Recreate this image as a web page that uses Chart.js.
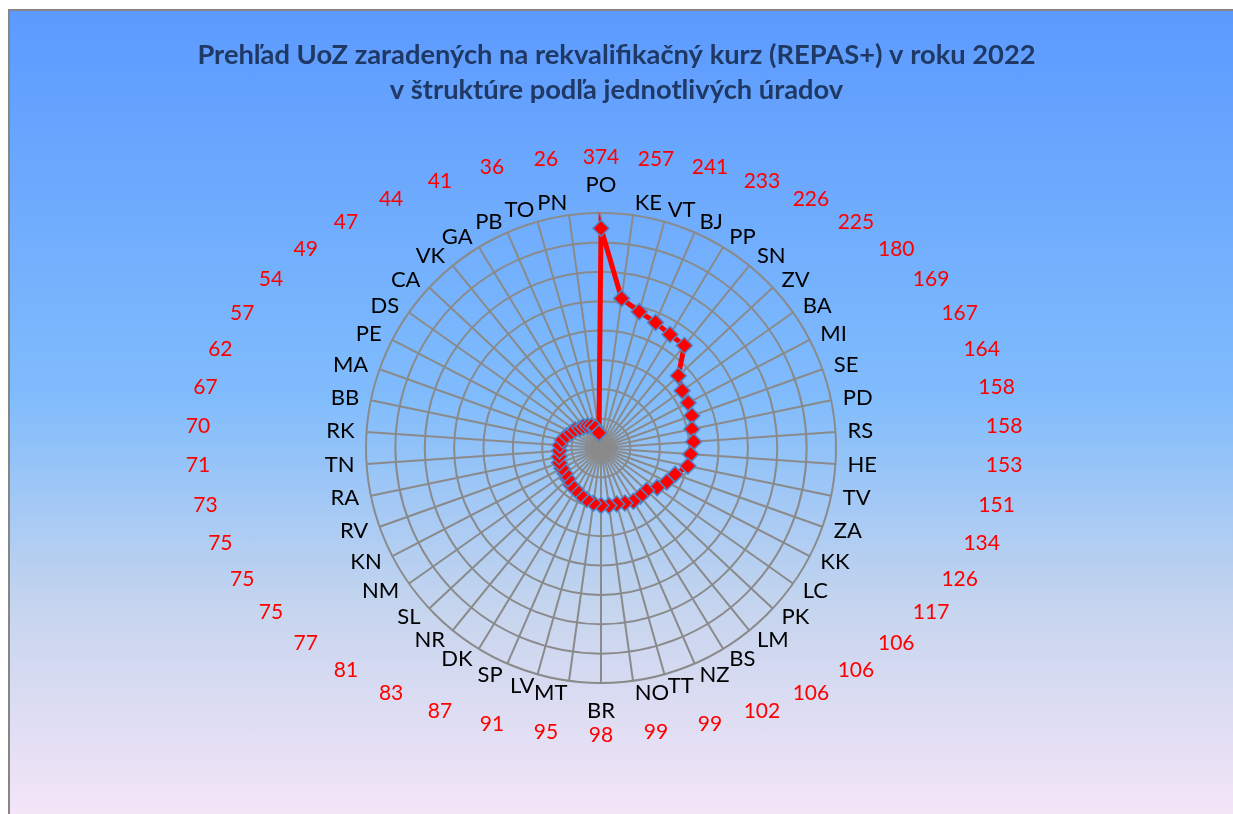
<!DOCTYPE html>
<html>
<head>
<meta charset="utf-8">
<script src="https://cdn.jsdelivr.net/npm/chart.js@4"></script>
<style>
    html, body { margin: 0; padding: 0; background: #fff; overflow: hidden; }
    #fondo {
        position: absolute; left: 8px; top: 9px; width: 1240px; height: 820px;
        border: 2px solid #868686;
        background: linear-gradient(to bottom, #5c9aff 0%, #80bcfc 47%, #c6d5ee 73%, #f8e6f8 100%);
    }
    #grafica { position: absolute; left: 0; top: 0; }
</style>
</head>
<body>
<div id="fondo"></div>
<canvas id="grafica" width="1233" height="814"></canvas>
<script>
// Úrady (v smere hodinových ručičiek od vrchu)
const urady = ['PO', 'KE', 'VT', 'BJ', 'PP', 'SN', 'ZV', 'BA', 'MI', 'SE', 'PD', 'RS', 'HE', 'TV', 'ZA', 'KK',
    'LC', 'PK', 'LM', 'BS', 'NZ', 'TT', 'NO', 'BR', 'MT', 'LV', 'SP', 'DK', 'NR', 'SL', 'NM', 'KN', 'RV',
    'RA', 'TN', 'RK', 'BB', 'MA', 'PE', 'DS', 'CA', 'VK', 'GA', 'PB', 'TO', 'PN'];

// Počet UoZ zaradených na REPAS+
const pocty = [374, 257, 241, 233, 226, 225, 180, 169, 167, 164, 158, 158, 153, 151, 134, 126, 117, 106,
    106, 106, 102, 99, 99, 98, 95, 91, 87, 83, 81, 77, 75, 75, 75, 73, 71, 70, 67, 62, 57, 54, 49, 47,
    44, 41, 36, 26];

const nadpis = ['Prehľad UoZ zaradených na rekvalifikačný kurz (REPAS+) v roku 2022',
    'v štruktúre podľa jednotlivých úradov'];

// Názvy úradov okolo kruhu (zarovnanie ako v Exceli)
const nazvyUradov = {
    id: 'nazvyUradov',
    afterDatasetsDraw: (chart) => {
        const scale = chart.scales.r;
        const ctx = chart.ctx;
        ctx.save();
        ctx.font = '22px Lato';
        ctx.fillStyle = '#000000';
        ctx.textBaseline = 'middle';
        for (let i = 0; i < urady.length; i++) {
            const pos = scale.getPointPosition(i, scale.drawingArea + 12);
            const uhol = Math.round(scale.getIndexAngle(i) * 180 / Math.PI) % 360;
            let y = pos.y;
            if (uhol === 0) {
                ctx.textAlign = 'center';
                y -= 16;
            } else if (uhol === 180) {
                ctx.textAlign = 'center';
                y += 16;
            } else if (uhol < 180) {
                ctx.textAlign = 'left';
            } else {
                ctx.textAlign = 'right';
            }
            ctx.fillText(urady[i], pos.x, y);
        }
        ctx.restore();
    }
};

// Hodnoty v červenom okolo grafu
const hodnotyOkolo = {
    id: 'hodnotyOkolo',
    afterDraw: (chart) => {
        const scale = chart.scales.r;
        const ctx = chart.ctx;
        ctx.save();
        ctx.font = '21px Lato';
        ctx.fillStyle = '#ff0000';
        ctx.textAlign = 'center';
        ctx.textBaseline = 'middle';
        for (let i = 0; i < pocty.length; i++) {
            const uhol = scale.getIndexAngle(i) - Math.PI / 2;
            const x = scale.xCenter + 404 * Math.cos(uhol);
            const y = scale.yCenter - 2 + 289 * Math.sin(uhol);
            ctx.fillText(String(pocty[i]), x, y);
        }
        ctx.restore();
    }
};

const ctx = document.getElementById('grafica').getContext('2d');
new Chart(ctx, {
    type: 'radar',
    data: {
        labels: urady,
        datasets: [{
            data: pocty,
            borderColor: '#ff0000',
            borderWidth: 5,
            fill: false,
            tension: 0,
            pointStyle: 'rectRot',
            pointRadius: 8,
            pointBackgroundColor: '#ff0000',
            pointBorderColor: '#4f86c6',
            pointBorderWidth: 1.5
        }]
    },
    options: {
        responsive: false,
        animation: false,
        layout: {
            padding: { top: 0, bottom: 131, left: 0, right: 0 }
        },
        plugins: {
            legend: { display: false },
            tooltip: { enabled: false },
            title: {
                display: true,
                text: nadpis,
                color: '#1f3864',
                font: { family: 'Lato', size: 27.3, weight: 'bold', lineHeight: 35 / 27.3 },
                padding: { top: 37.5, bottom: 105.5 }
            }
        },
        scales: {
            r: {
                min: 0,
                max: 400,
                ticks: { display: false, stepSize: 50 },
                grid: { circular: true, color: '#8a8a8a', lineWidth: 2 },
                angleLines: { color: '#8a8a8a', lineWidth: 2 },
                pointLabels: { display: false },
                // kruh je v Exceli trochu vľavo od stredu nadpisu
                afterFit: (scale) => {
                    scale.xCenter -= 15;
                }
            }
        }
    },
    plugins: [nazvyUradov, hodnotyOkolo]
});
</script>
</body>
</html>
